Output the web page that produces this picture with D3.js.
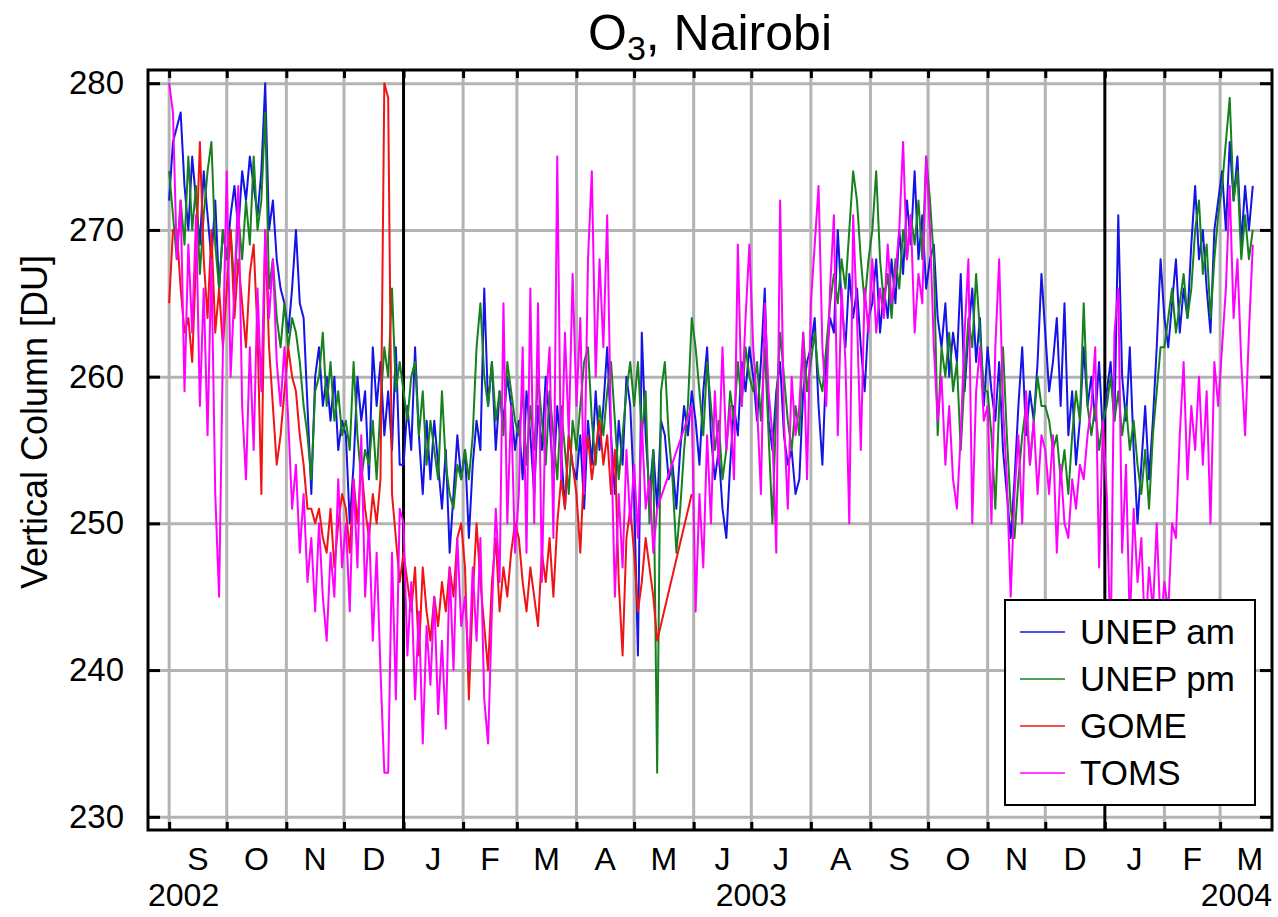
<!DOCTYPE html>
<html>
<head>
<meta charset="utf-8">
<script src="https://cdn.jsdelivr.net/npm/d3@7"></script>
<style>
  body { margin: 0; background: #fff; }
  svg { display: block; font-family: "Liberation Sans", Arial, Helvetica, sans-serif; }
</style>
</head>
<body>
<div id="chart"></div>
<script>
const width = 1278;
const height = 917;
const margin = { top: 70, right: 6, bottom: 87, left: 148 };

const yTicks = [230, 240, 250, 260, 270, 280];
const monthLabels = ["J", "F", "M", "A", "M", "J", "J", "A", "S", "O", "N", "D"];
const yearLabels = [2002, 2003, 2004];
const seriesNames = ["UNEP am", "UNEP pm", "GOME", "TOMS"];
const seriesColors = ["#1414e6", "#16821e", "#f01414", "#ff00ff"];

// daily-ish readings, one value every 2 days starting 2002-09-01 (null = no data)
const firstDay = new Date(Date.UTC(2002, 8, 1));
const stepDays = 2;

const unepAm = [
  272, 276, 277, 278, 273, 270, 275, 272, 269, 274, 271, 268, 272, 266, 270,       // Sep 02
  268, 271, 273, 270, 274, 272, 275, 273, 271, 274, 280, 270, 272, 268, 266, 265,  // Oct
  263, 266, 270, 265, 264, 258, 252, 260, 262, 258, 260, 257, 260, 255, 257,       // Nov
  256, 250, 254, 260, 257, 259, 253, 262, 258, 261, 256, 259, 255, 262, 254,       // Dec
  254, 258, 255, 262, 256, 252, 257, 253, 257, 254, 251, 255, 248, 252, 256, 253,  // Jan 03
  255, 249, 254, 257, 255, 266, 258, 261, 255, 259, 257, 260, 258, 255,            // Feb
  257, 253, 259, 256, 252, 258, 255, 260, 257, 253, 258, 255, 251, 256, 254,       // Mar
  253, 256, 251, 257, 254, 259, 255, 258, 262, 256, 252, 257, 254, 260, 258,       // Apr
  252, 241, 263, 256, 252, 255, 251, 257, 256, 253, 254, 251, 255, 258, 256, 259,  // May
  257, 254, 259, 262, 256, 253, 255, 251, 249, 254, 258, 256, 261, 259, 262,       // Jun
  260, 257, 261, 266, 257, 255, 259, 261, 256, 254, 255, 252, 253, 259, 261,       // Jul
  262, 264, 258, 254, 261, 264, 263, 270, 265, 262, 267, 264, 266, 262, 259, 264,  // Aug
  265, 268, 263, 266, 264, 268, 265, 270, 267, 272, 269, 274, 268, 271, 266,       // Sep
  268, 269, 264, 262, 265, 260, 263, 261, 267, 259, 263, 266, 261, 264, 258,       // Oct
  262, 259, 257, 261, 255, 252, 249, 253, 258, 262, 256, 259, 257, 261, 267,       // Nov
  263, 259, 261, 264, 258, 265, 256, 259, 254, 257, 262, 258, 260, 257, 261, 256,  // Dec
  259, 261, 257, 271, 260, 257, 262, 255, 250, 254, 258, 253, 257, 262, 268,       // Jan 04
  264, 262, 265, 268, 263, 266, 264, 269, 273, 268, 270, 266, 263, 270, 272,       // Feb
  274, 270, 276, 272, 275, 269, 273, 270, 273                                      // Mar
];

const unepPm = [
  274, 271, 268, 272, 269, 275, 270, 273, 267, 271, 274, 276, 269, 266, 270,
  268, 270, 266, 271, 268, 272, 269, 275, 270, 272, 278, 266, 268, 264, 262, 265,
  262, 264, 263, 261, 258, 256, 253, 259, 260, 263, 258, 261, 257, 259, 256,
  257, 255, 261, 256, 253, 255, 254, 257, 253, 258, 262, 260, 266, 259, 261,
  259, 257, 260, 261, 256, 259, 254, 257, 255, 253, 259, 254, 252, 251, 254, 253,
  255, 253, 256, 262, 265, 260, 258, 261, 257, 259, 256, 261, 259, 257,
  256, 259, 254, 258, 255, 260, 257, 254, 259, 256, 253, 258, 255, 252, 257,
  255, 258, 261, 262, 257, 254, 258, 256, 259, 261, 257, 253, 256, 259, 261,
  258, 261, 256, 259, 250, 255, 233, 259, 261, 256, 253, 248, 251, 255, 258, 264,
  262, 259, 256, 261, 258, 255, 257, 253, 255, 259, 257, 261, 258, 262, 260,
  259, 261, 257, 262, 256, 250, 258, 263, 260, 257, 255, 258, 256, 263, 259,
  261, 263, 260, 259, 262, 265, 267, 265, 268, 266, 270, 274, 272, 268, 265, 268,
  270, 274, 268, 265, 267, 264, 268, 266, 270, 268, 271, 269, 272, 268, 275,
  272, 268, 256, 262, 260, 263, 259, 261, 255, 260, 264, 262, 267, 263, 259,
  259, 256, 251, 258, 262, 256, 251, 249, 253, 256, 258, 254, 257, 260, 258,
  258, 257, 255, 256, 253, 255, 252, 256, 259, 257, 265, 258, 256, 258, 255, 257,
  258, 260, 257, 259, 256, 258, 255, 257, 254, 252, 255, 251, 256, 259, 262,
  262, 264, 266, 263, 265, 267, 264, 266, 270, 272, 267, 269, 264, 268, 271,
  273, 276, 279, 272, 274, 268, 271, 268, 270
];

const gome = [
  265, 270, 270, 266, 263, 264, 261, 268, 276, 268, 264, 270, 263, 266, 262,
  266, 270, 264, 268, 265, 262, 267, 269, 263, 252, 270, 262, 258, 254, 256, 259,
  262, 260, 259, 256, 254, 251, 251, 250, 251, 249, 248, 251, 247, 250, 252,
  251, 248, 253, 250, 254, 251, 249, 252, 250, 253, 280, 279, 252, 249, 246,
  248, 246, 244, 247, 241, 247, 244, 242, 245, 243, 246, 244, 247, 245, 249, 250,
  247, 238, 245, 250, 246, 243, 240, 246, 249, 244, 247, 245, 248, 250,
  249, 246, 244, 247, 245, 243, 248, 246, 249, 245, 250, 253, 251, 256, 254,
  252, 248, 254, 256, 253, 255, 257, 254, 256, 252, 255, 246, 241, 249, 251,
  248, 244, 246, 249, 247, 245, 242, null, null, null, null, null, null, null, null, 252
];

const toms = [
  280, 278, 268, 272, 259, 269, 263, 271, 258, 266, 256, 268, 252, 245, 262,
  274, 260, 266, 273, 258, 253, 262, 255, 266, 259, 270, 264, 268, 261, 258, 262,
  257, 251, 254, 248, 252, 246, 249, 244, 250, 245, 242, 248, 245, 253, 247,
  250, 244, 253, 247, 256, 245, 250, 242, 248, 240, 233, 233, 248, 238, 251,
  250, 241, 246, 238, 244, 235, 243, 239, 245, 237, 242, 236, 247, 240, 249, 243,
  245, 240, 247, 242, 249, 238, 235, 244, 251, 246, 265, 250, 258, 248,
  252, 262, 248, 266, 250, 265, 246, 258, 262, 249, 275, 253, 263, 256, 267,
  258, 264, 252, 268, 274, 260, 268, 262, 271, 256, 245, 252, 247, 255, 250,
  254, 249, 257, 251, 253, 248, 251, null, null, null, null, null, null, null, null, 258,
  244, 252, 247, 256, 250, 259, 254, 262, 255, 258, 253, 269, 258, 264, 269,
  262, 258, 252, 265, 259, 256, 248, 272, 257, 251, 260, 256, 258, 263, 253,
  265, 269, 273, 262, 258, 266, 271, 256, 266, 261, 250, 271, 264, 255, 266, 263,
  268, 263, 266, 264, 269, 265, 267, 270, 276, 268, 271, 263, 267, 265, 275,
  270, 262, 257, 260, 254, 258, 253, 251, 256, 263, 268, 250, 259, 262, 257,
  258, 250, 262, 268, 258, 253, 245, 252, 256, 250, 259, 254, 257, 252, 256,
  255, 252, 256, 248, 254, 250, 249, 253, 251, 254, 253, 256, 258, 262, 247, 257,
  252, 241, 263, 266, 248, 254, 243, 251, 246, 249, 242, 247, 244, 250, 243,
  246, 244, 250, 249, 256, 261, 253, 258, 255, 260, 254, 259, 250, 261, 258,
  262, 266, 273, 264, 268, 261, 256, 263, 269
];

const seriesValues = [unepAm, unepPm, gome, toms];

const plotW = width - margin.left - margin.right;
const plotH = height - margin.top - margin.bottom;

const svg = d3.select("#chart")
  .append("svg")
  .attr("width", width)
  .attr("height", height);

const x = d3.scaleUtc()
  .domain([new Date(Date.UTC(2002, 7, 21)), new Date(Date.UTC(2004, 2, 28))])
  .range([margin.left, margin.left + plotW]);

const y = d3.scaleLinear()
  .domain([229.1, 280.9])
  .range([margin.top + plotH, margin.top]);

// clip for data lines
svg.append("clipPath").attr("id", "plot-clip")
  .append("rect")
  .attr("x", margin.left).attr("y", margin.top)
  .attr("width", plotW).attr("height", plotH);

// horizontal grid
svg.append("g")
  .attr("transform", `translate(${margin.left},0)`)
  .call(d3.axisLeft(y).tickValues(yTicks).tickSize(-plotW).tickFormat(""))
  .call(g => g.select(".domain").remove())
  .selectAll("line")
  .attr("stroke", "#b3b3b3")
  .attr("stroke-width", 3);

// vertical month grid, year starts in black
const monthStarts = d3.utcMonth.range(x.domain()[0], x.domain()[1]);
svg.append("g")
  .selectAll("line")
  .data(monthStarts)
  .join("line")
  .attr("x1", d => x(d)).attr("x2", d => x(d))
  .attr("y1", margin.top).attr("y2", margin.top + plotH)
  .attr("stroke", d => d.getUTCMonth() === 0 ? "#000" : "#b3b3b3")
  .attr("stroke-width", 3);

// data lines
const line = d3.line()
  .x(d => x(d.date))
  .y(d => y(d.value));

const plot = svg.append("g").attr("clip-path", "url(#plot-clip)");
seriesValues.forEach((values, i) => {
  const pts = values
    .map((v, k) => ({ date: d3.utcDay.offset(firstDay, k * stepDays), value: v }))
    .filter(d => d.value != null);
  plot.append("path")
    .datum(pts)
    .attr("fill", "none")
    .attr("stroke", seriesColors[i])
    .attr("stroke-width", 2)
    .attr("stroke-linejoin", "round")
    .attr("d", line);
});

// inward tick marks on all four sides
const tickStyle = g => {
  g.select(".domain").remove();
  g.selectAll("line").attr("stroke", "#000").attr("stroke-width", 3);
};
svg.append("g")
  .attr("transform", `translate(0,${margin.top + plotH})`)
  .call(d3.axisBottom(x).ticks(d3.utcMonth.every(1)).tickSize(-8).tickFormat(""))
  .call(tickStyle);
svg.append("g")
  .attr("transform", `translate(0,${margin.top})`)
  .call(d3.axisTop(x).ticks(d3.utcMonth.every(1)).tickSize(-8).tickFormat(""))
  .call(tickStyle);
svg.append("g")
  .attr("transform", `translate(${margin.left + plotW},0)`)
  .call(d3.axisRight(y).tickValues(yTicks).tickSize(-12).tickFormat(""))
  .call(tickStyle);

// left axis with labels
const yAxis = svg.append("g")
  .attr("transform", `translate(${margin.left},0)`)
  .call(d3.axisLeft(y).tickValues(yTicks).tickSize(-12).tickPadding(24))
  .call(tickStyle);
yAxis.selectAll("text")
  .attr("font-family", "inherit")
  .attr("font-size", 33)
  .attr("fill", "#000");

// frame
svg.append("rect")
  .attr("x", margin.left).attr("y", margin.top)
  .attr("width", plotW).attr("height", plotH)
  .attr("fill", "none")
  .attr("stroke", "#000")
  .attr("stroke-width", 3);

// month letters centred in each month
const monthMids = monthStarts
  .map(d => new Date((+d + +d3.utcMonth.offset(d, 1)) / 2))
  .filter(d => x(d) > margin.left && x(d) < margin.left + plotW);
svg.append("g")
  .selectAll("text")
  .data(monthMids)
  .join("text")
  .attr("x", d => x(d))
  .attr("y", margin.top + plotH + 40)
  .attr("text-anchor", "middle")
  .attr("font-size", 32)
  .text(d => monthLabels[d.getUTCMonth()]);

// year labels at mid-year, kept inside the frame
yearLabels.forEach(yr => {
  const t = svg.append("text")
    .attr("y", margin.top + plotH + 76)
    .attr("text-anchor", "middle")
    .attr("font-size", 32)
    .text(yr);
  const w = t.node().getComputedTextLength();
  let cx = x(new Date(Date.UTC(yr, 6, 1)));
  cx = Math.max(margin.left + w / 2, Math.min(margin.left + plotW - w / 2, cx));
  t.attr("x", cx);
});

// y label
svg.append("text")
  .attr("transform", `translate(47,${margin.top + plotH / 2 - 28}) rotate(-90)`)
  .attr("text-anchor", "middle")
  .attr("font-size", 36)
  .text("Vertical Column [DU]");

// title
const title = svg.append("text")
  .attr("x", margin.left + plotW / 2)
  .attr("y", 50)
  .attr("text-anchor", "middle")
  .attr("font-size", 50);
title.append("tspan").text("O");
title.append("tspan").attr("font-size", 34).attr("dy", 10).text("3");
title.append("tspan").attr("dy", -10).text(", Nairobi");

// legend
const legend = svg.append("g").attr("transform", "translate(1005,600)");
legend.append("rect")
  .attr("width", 250).attr("height", 205)
  .attr("fill", "#fff")
  .attr("stroke", "#000")
  .attr("stroke-width", 2);
seriesNames.forEach((name, i) => {
  const row = legend.append("g").attr("transform", `translate(0,${32 + i * 47})`);
  row.append("line")
    .attr("x1", 15).attr("x2", 60)
    .attr("stroke", seriesColors[i])
    .attr("stroke-width", 1.5);
  row.append("text")
    .attr("x", 75).attr("y", 12)
    .attr("font-size", 35)
    .text(name);
});
</script>
</body>
</html>
